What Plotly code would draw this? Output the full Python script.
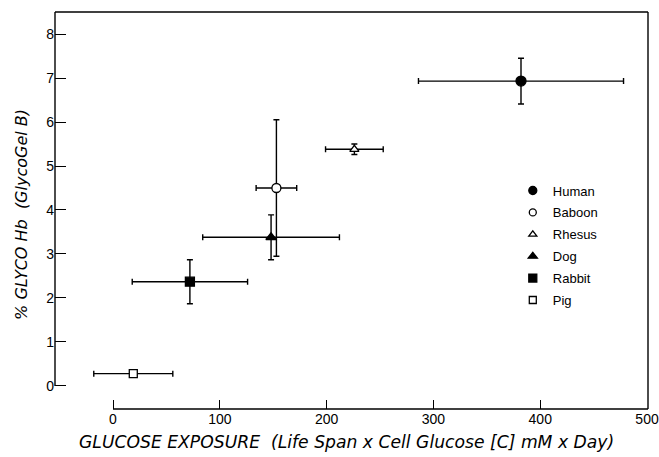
import plotly.graph_objects as go

species = ["Human", "Baboon", "Rhesus", "Dog", "Rabbit", "Pig"]
exposure = [382, 153, 226, 148, 72, 19]
exposure_err = [96, 19, 27, 64, 54, 37]
glyco_hb = [6.93, 4.50, 5.38, 3.38, 2.37, 0.28]
glyco_err = [0.52, 1.55, 0.12, 0.51, 0.50, 0.0]
symbols = ["circle", "circle", "triangle-up", "triangle-up", "square", "square"]
fills = ["black", "white", "white", "black", "black", "white"]
sizes = [10, 9, 8, 9, 9, 8]
legend_sizes = [8, 7, 7, 8, 8, 7]

x_ticks = [0, 100, 200, 300, 400, 500]
y_ticks = [0, 1, 2, 3, 4, 5, 6, 7, 8]

x_title = "GLUCOSE EXPOSURE\u00a0\u00a0(Life Span x Cell Glucose [C] mM x Day)"
y_title = "% GLYCO Hb\u00a0\u00a0(GlycoGel B)"

FONT = "Liberation Sans"
TITLE_FONT = "DejaVu Sans"

fig = go.Figure()
for i, name in enumerate(species):
    fig.add_trace(go.Scatter(
        x=[exposure[i]], y=[glyco_hb[i]], name=name, mode="markers",
        showlegend=False,
        marker=dict(symbol=symbols[i], size=sizes[i], color=fills[i],
                    line=dict(color="black", width=1.3)),
        error_x=dict(type="data", array=[exposure_err[i]], color="black",
                     thickness=1.4, width=3),
        error_y=dict(type="data", array=[glyco_err[i]], color="black",
                     thickness=1.4, width=3, visible=glyco_err[i] > 0),
    ))
# legend entries (no data, smaller symbols)
for i, name in enumerate(species):
    fig.add_trace(go.Scatter(
        x=[None], y=[None], name=name, mode="markers", legendgroup=name,
        marker=dict(symbol=symbols[i], size=legend_sizes[i], color=fills[i],
                    line=dict(color="black", width=1.3)),
    ))

# frame: left line stops at y=0, bottom line starts at x=0
line = dict(color="black", width=1.4)
fig.add_shape(type="line", xref="paper", yref="y", x0=0, x1=0, y0=0, y1=8.5, line=line)
fig.add_shape(type="line", xref="paper", yref="paper", x0=0, x1=1, y0=1, y1=1, line=line)
fig.add_shape(type="line", xref="paper", yref="paper", x0=1, x1=1, y0=0, y1=1, line=line)
fig.add_shape(type="line", xref="x", yref="paper", x0=0, x1=500.9, y0=0, y1=0, line=line)

fig.add_annotation(text="<i>" + x_title + "</i>", xref="paper", yref="paper",
                   x=0.492, y=-0.083, xanchor="center", yanchor="middle",
                   showarrow=False, font=dict(size=17.2, family=TITLE_FONT))
fig.add_annotation(text="<i>" + y_title + "</i>", xref="paper", yref="paper",
                   x=-0.0556, y=0.489, xanchor="center", yanchor="middle",
                   textangle=-90, showarrow=False,
                   font=dict(size=16, family=TITLE_FONT))

fig.update_layout(
    width=659, height=457,
    margin=dict(l=55, r=11, t=12, b=48),
    plot_bgcolor="white", paper_bgcolor="white",
    font=dict(family=FONT, color="black", size=14),
    showlegend=True,
    legend=dict(x=0.772, y=0.588, xanchor="left", yanchor="top",
                bgcolor="rgba(0,0,0,0)", font=dict(size=13, family=FONT),
                itemwidth=30, tracegroupgap=2),
)
fig.update_xaxes(
    range=[-54.3, 500.9], tickvals=x_ticks, ticktext=[str(v) for v in x_ticks],
    ticks="inside", ticklen=9, tickwidth=1.3, tickcolor="black",
    showline=False, showgrid=False, zeroline=False, automargin=False,
    tickfont=dict(size=14),
)
fig.update_yaxes(
    range=[-0.523, 8.5], tickvals=y_ticks, ticktext=[str(v) for v in y_ticks],
    ticks="inside", ticklen=11, tickwidth=1.3, tickcolor="black",
    showline=False, showgrid=False, zeroline=False, automargin=False,
    tickfont=dict(size=14),
)

fig.write_html(
    "out.html",
    config={"displayModeBar": False},
    post_script="document.body.style.margin='0';document.body.style.overflow='hidden';",
)
